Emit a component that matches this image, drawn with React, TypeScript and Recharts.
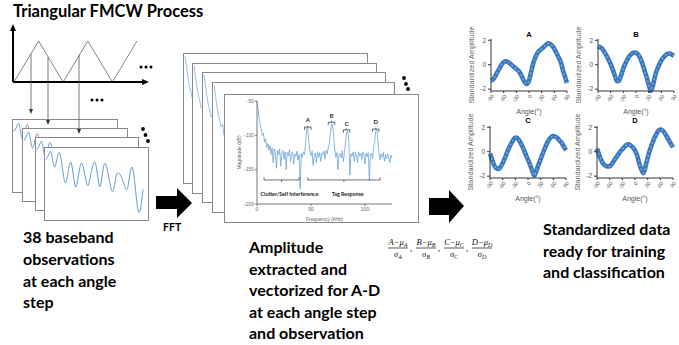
import React from 'react';
import { LineChart, Line, XAxis, YAxis, ReferenceLine, ReferenceDot, Label } from 'recharts';

// ---------- data ----------
const angleDeg = [-90,-85,-80,-75,-70,-65,-60,-55,-50,-45,-40,-35,-30,-25,-20,-15,-10,-5,0,5,10,15,20,25,30,35,40,45,50,55,60,65,70,75,80,85,90];
const ampA = [-1.3,-1.2,-0.95,-0.6,-0.3,0.0,0.2,0.28,0.22,0.1,-0.05,-0.2,-0.35,-0.5,-0.75,-1.1,-1.45,-1.58,-1.3,-0.6,0.1,0.6,0.95,1.15,1.3,1.45,1.62,1.75,1.7,1.55,1.3,0.95,0.6,0.25,-0.4,-0.95,-1.5];
const ampB = [1.5,1.42,1.3,1.05,0.75,0.4,0.05,-0.4,-0.9,-1.35,-1.3,-0.85,-0.3,0.1,0.45,0.72,0.9,1.0,0.98,0.82,0.55,0.1,-0.45,-1.0,-1.6,-2.15,-1.7,-0.95,-0.4,0.0,0.35,0.6,0.78,0.9,0.92,0.82,0.72];
const ampC = [-0.15,-0.65,-1.1,-1.35,-1.42,-1.25,-0.95,-0.55,-0.1,0.3,0.65,0.95,1.15,1.1,0.88,0.55,0.15,-0.25,-0.65,-1.1,-1.55,-1.95,-1.55,-1.05,-0.6,-0.15,0.3,0.68,1.0,1.2,1.27,1.22,1.1,0.9,0.7,0.4,0.12];
const ampD = [0.25,-0.25,-0.7,-1.0,-1.15,-1.2,-1.2,-1.0,-0.75,-0.5,-0.25,0.0,0.2,0.4,0.55,0.6,0.5,0.35,0.1,-0.3,-0.95,-1.45,-1.75,-1.2,-0.5,0.1,0.6,1.05,1.4,1.7,1.82,1.75,1.55,1.25,0.95,0.65,0.35];
const angleTicks = [-90,-60,-30,0,30,60,90];
const ampTicks = [-2,0,2];
const panelTitles = ['A','B','C','D'];

// FFT magnitude (dB) at 1 kHz steps, 0..125 kHz
const fftMag = [
-50,-62,-75,-85,-92,-100,-97,-110,-105,-118,
-112,-122,-115,-128,-118,-140,-120,-125,-148,-122,
-128,-120,-145,-126,-122,-135,-124,-150,-125,-130,
-121,-138,-126,-124,-142,-127,-131,-123,-136,-128,
-178,-126,-132,-124,-128,-112,-90,-89,-108,-125,
-130,-123,-144,-127,-126,-140,-124,-132,-125,-138,
-126,-128,-123,-135,-122,-127,-118,-112,-96,-83,
-85,-102,-120,-132,-125,-150,-128,-126,-133,-122,
-138,-125,-110,-95,-94,-106,-158,-127,-130,-124,
-138,-125,-129,-140,-124,-130,-126,-135,-124,-128,
-142,-126,-131,-125,-166,-128,-126,-134,-118,-108,
-93,-92,-110,-126,-136,-127,-132,-125,-138,-128,
-134,-127,-131,-140,-129,-133
];
const fftTicksX = [0,50,100];
const fftTicksY = [-200,-150,-100,-50];
const peakLabels = ['A','B','C','D'];
const peakFreq = [47,69,83,110];
const peakBracketDb = [-88,-81,-92,-91];
const peakLabelDb = [-77,-72,-83,-81];
const regionLabels = ['Clutter/Self Interference','Tag Response'];
const regionFrom = [6.5,47];
const regionTo = [39,114];
const regionLabelFreq = [30,84];

// baseband observation (relative amplitude)
const bbT = [0,3,5.5,9,14,19.5,25,30,35.5,41,45,50,54.5,59.5,66,70,73,78,82.5,87.5,93,98];
const bbV = [86,94,95,75,95,51,82,45,80,50,62,80,45,80,41,55,66,53,44,73,10,41];

// triangular chirp
const triT = [0,1,2,3,4,5];
const triV = [0,1,0,1,0,1];

const angleData = (vals: number[]) => angleDeg.map((a, i) => ({ a, v: vals[i] }));
const fftData = fftMag.map((m, i) => ({ f: i, m }));
const bbData = bbT.map((t, i) => ({ t, v: bbV[i] }));
const triData = triT.map((t, i) => ({ t, v: triV[i] }));

const SANS = 'Liberation Sans, Arial, sans-serif';
const BOLD = 'Lato, sans-serif';

// ---------- components ----------
function AnglePanel({ values, plotLeft, plotTop }: { values: number[]; plotLeft: number; plotTop: number }) {
  return (
    <div style={{ position: 'absolute', left: plotLeft - 40, top: plotTop - 14 }}>
      <LineChart width={121} height={92} data={angleData(values)} margin={{ top: 14, right: 5, bottom: 0, left: 0 }}>
        <XAxis type="number" dataKey="a" domain={[-90, 90]} ticks={angleTicks} interval={0} height={26}
          tick={{ fontSize: 5.5, fill: '#666', fontFamily: SANS }} angle={-55} textAnchor="end"
          tickSize={2} tickMargin={1} stroke="#333">
          <Label value="Angle(°)" position="insideBottom" offset={3} style={{ fontSize: 7, fill: '#555', fontFamily: SANS }} />
        </XAxis>
        <YAxis type="number" domain={[-2.15, 2.1]} ticks={ampTicks} width={40} interval={0}
          tick={{ fontSize: 6.5, fill: '#555', fontFamily: SANS }} tickSize={3} tickMargin={2} stroke="#333">
          <Label value="Standardized Amplitude" angle={-90} position="center" style={{ fontSize: 7.3, fill: '#666', fontFamily: SANS }} />
        </YAxis>
        <Line type="monotone" dataKey="v" stroke="#3a78bd" strokeWidth={4.6} dot={false} isAnimationActive={false} />
        <Line type="monotone" dataKey="v" stroke="#80acdc" strokeWidth={1.4} strokeDasharray="2 2.5" dot={false} isAnimationActive={false} />
      </LineChart>
    </div>
  );
}

function Frame({ x, y, w, h, children }: { x: number; y: number; w: number; h: number; children?: React.ReactNode }) {
  return (
    <div style={{ position: 'absolute', left: x, top: y, width: w, height: h, boxSizing: 'border-box', border: '1px solid #888', background: '#fff', overflow: 'hidden' }}>
      <div style={{ position: 'absolute', left: -1, top: -1 }}>{children}</div>
    </div>
  );
}

function BasebandChart({ w, h }: { w: number; h: number }) {
  return (
    <LineChart width={w} height={h} data={bbData} margin={{ top: 3, right: 4, bottom: 4, left: 2 }}>
      <XAxis hide type="number" dataKey="t" domain={[0, 100]} />
      <YAxis hide type="number" domain={[0, 100]} />
      <Line type="natural" dataKey="v" stroke="#4f8fd0" strokeWidth={0.9} dot={false} isAnimationActive={false} />
    </LineChart>
  );
}

function FftBackChart({ w, h }: { w: number; h: number }) {
  return (
    <LineChart width={w} height={h} data={fftData} margin={{ top: 3, right: 2, bottom: 2, left: 2 }}>
      <XAxis hide type="number" dataKey="f" domain={[0, 125]} />
      <YAxis hide type="number" domain={[-200, -50]} />
      <Line type="linear" dataKey="m" stroke="#7fb0de" strokeWidth={0.8} dot={false} isAnimationActive={false} />
    </LineChart>
  );
}

function FftFrontChart() {
  const txt = { fontSize: 5, fill: '#666', fontFamily: SANS };
  return (
    <LineChart width={195} height={129} data={fftData} margin={{ top: 7, right: 27, bottom: 0, left: 0 }}>
      <XAxis type="number" dataKey="f" domain={[0, 125]} ticks={fftTicksX} interval={0} height={19}
        tick={txt} tickSize={2} tickMargin={1} stroke="#777">
        <Label value="Frequency (kHz)" position="insideBottom" offset={2} style={txt} />
      </XAxis>
      <YAxis type="number" domain={[-200, -50]} ticks={fftTicksY} interval={0} width={33}
        tick={txt} tickSize={2} tickMargin={1} stroke="#777">
        <Label value="Magnitude (dB)" angle={-90} position="center" dx={-1} style={txt} />
      </YAxis>
      <Line type="linear" dataKey="m" stroke="#649fd6" strokeWidth={0.75} dot={false} isAnimationActive={false} />
      {peakLabels.map((L, i) => (
        <React.Fragment key={L}>
          <ReferenceLine segment={[{ x: peakFreq[i] - 3, y: peakBracketDb[i] }, { x: peakFreq[i] + 3, y: peakBracketDb[i] }]} stroke="#222" strokeWidth={0.7} />
          <ReferenceLine segment={[{ x: peakFreq[i] - 3, y: peakBracketDb[i] }, { x: peakFreq[i] - 3, y: peakBracketDb[i] - 4 }]} stroke="#222" strokeWidth={0.7} />
          <ReferenceLine segment={[{ x: peakFreq[i] + 3, y: peakBracketDb[i] }, { x: peakFreq[i] + 3, y: peakBracketDb[i] - 4 }]} stroke="#222" strokeWidth={0.7} />
          <ReferenceLine segment={[{ x: peakFreq[i], y: peakBracketDb[i] }, { x: peakFreq[i], y: peakBracketDb[i] + 2 }]} stroke="#222" strokeWidth={0.7} />
          <ReferenceDot x={peakFreq[i]} y={peakLabelDb[i]} r={0.01} fill="none" stroke="none"
            label={{ value: L, position: 'center', fontSize: 6, fontWeight: 700, fill: '#222', fontFamily: BOLD }} />
        </React.Fragment>
      ))}
      {regionLabels.map((L, i) => (
        <React.Fragment key={L}>
          <ReferenceLine segment={[{ x: regionFrom[i], y: -165 }, { x: regionTo[i], y: -165 }]} stroke="#333" strokeWidth={0.7} />
          <ReferenceLine segment={[{ x: regionFrom[i], y: -165 }, { x: regionFrom[i], y: -161 }]} stroke="#333" strokeWidth={0.7} />
          <ReferenceLine segment={[{ x: regionTo[i], y: -165 }, { x: regionTo[i], y: -161 }]} stroke="#333" strokeWidth={0.7} />
          <ReferenceLine segment={[{ x: (regionFrom[i] + regionTo[i]) / 2, y: -165 }, { x: (regionFrom[i] + regionTo[i]) / 2, y: -168 }]} stroke="#333" strokeWidth={0.7} />
          <ReferenceDot x={regionLabelFreq[i]} y={-185} r={0.01} fill="none" stroke="none"
            label={{ value: L, position: 'center', fontSize: 5.3, fontWeight: 700, fill: '#222', fontFamily: BOLD }} />
        </React.Fragment>
      ))}
    </LineChart>
  );
}

function Fraction({ x, letter }: { x: number; letter: string }) {
  const cx = x + 10;
  const f = 'Liberation Serif, DejaVu Serif, serif';
  return (
    <g fontFamily={f} fontStyle="italic" fill="#111">
      <text x={cx} y={245} fontSize={8.5} textAnchor="middle">
        {letter}−μ<tspan fontSize={6} dy={1.5}>{letter}</tspan>
      </text>
      <line x1={x} y1={248} x2={x + 20} y2={248} stroke="#111" strokeWidth={0.7} />
      <text x={cx} y={257} fontSize={8.5} textAnchor="middle">
        σ<tspan fontSize={6} dy={1.5}>{letter}</tspan>
      </text>
      {letter !== 'D' && <text x={x + 22} y={251} fontSize={9}>,</text>}
    </g>
  );
}

export default function App() {
  const fftFrames = [
    { x: 183, y: 53, w: 185, h: 131 },
    { x: 192, y: 63, w: 185, h: 131 },
    { x: 202, y: 72, w: 184, h: 131 },
    { x: 212, y: 82, w: 183, h: 131 },
  ];
  const bbFrames = [
    { x: 12, y: 119, w: 106, h: 74 },
    { x: 22, y: 128, w: 106, h: 74 },
    { x: 35, y: 137, w: 104, h: 74 },
  ];
  const bold = { fontFamily: BOLD, fontWeight: 700, fill: '#000' } as const;
  return (
    <div style={{ position: 'fixed', left: 0, top: 0, width: 679, height: 345, background: '#fff', overflow: 'hidden' }}>
      {/* triangular waveform */}
      <div style={{ position: 'absolute', left: 12, top: 39 }}>
        <LineChart width={127} height={45} data={triData} margin={{ top: 2, right: 2, bottom: 2, left: 2 }}>
          <XAxis hide type="number" dataKey="t" domain={[0, 5]} />
          <YAxis hide type="number" domain={[0, 1]} />
          <Line type="linear" dataKey="v" stroke="#777" strokeWidth={0.9} dot={false} isAnimationActive={false} />
        </LineChart>
      </div>

      {/* baseband frames */}
      {bbFrames.map((f, i) => (
        <Frame key={'bb' + i} {...f}><BasebandChart w={f.w} h={f.h} /></Frame>
      ))}
      <Frame x={44} y={147} w={105} h={74}><BasebandChart w={105} h={74} /></Frame>

      {/* FFT frames */}
      {fftFrames.map((f, i) => (
        <Frame key={'ff' + i} {...f}><FftBackChart w={f.w} h={f.h} /></Frame>
      ))}
      <Frame x={224} y={94} w={195} h={129}><FftFrontChart /></Frame>

      {/* standardized panels */}
      <AnglePanel values={ampA} plotLeft={491} plotTop={39} />
      <AnglePanel values={ampB} plotLeft={598} plotTop={39} />
      <AnglePanel values={ampC} plotLeft={490} plotTop={126} />
      <AnglePanel values={ampD} plotLeft={597} plotTop={126} />

      {/* overlay: arrows, dots, text */}
      <svg width={679} height={345} style={{ position: 'absolute', left: 0, top: 0, pointerEvents: 'none' }}>
        <text x={13} y={17} fontSize={16.5} {...bold}>Triangular FMCW Process</text>
        {/* axes */}
        <line x1={13} y1={82} x2={13} y2={30} stroke="#000" strokeWidth={2} />
        <polygon points="13,24 10,31 16,31" fill="#000" />
        <line x1={13} y1={82} x2={143} y2={82} stroke="#000" strokeWidth={2} />
        <polygon points="149,82 142,79 142,85" fill="#000" />
        {/* sampling arrows */}
        <line x1={31} y1={54} x2={31} y2={110} stroke="#555" strokeWidth={0.8} />
        <polygon points="31,114 29,109 33,109" fill="#333" />
        <line x1={48} y1={57} x2={48} y2={121} stroke="#555" strokeWidth={0.8} />
        <polygon points="48,125 46,120 50,120" fill="#333" />
        <line x1={79} y1={55} x2={79} y2={130} stroke="#555" strokeWidth={0.8} />
        <polygon points="79,134 77,129 81,129" fill="#333" />
        {/* dots */}
        {[141, 146, 151].map((x) => <circle key={'d1' + x} cx={x} cy={67} r={1.5} fill="#000" />)}
        {[92, 97, 102].map((x) => <circle key={'d2' + x} cx={x} cy={100} r={1.5} fill="#000" />)}
        <circle cx={143} cy={129} r={1.9} fill="#000" />
        <circle cx={145.5} cy={135} r={1.9} fill="#000" />
        <circle cx={148} cy={141} r={1.9} fill="#000" />
        <circle cx={404} cy={78} r={1.9} fill="#000" />
        <circle cx={406} cy={84} r={1.9} fill="#000" />
        <circle cx={408} cy={89} r={1.9} fill="#000" />
        {/* block arrows */}
        <polygon points="156,196 177,196 177,188 192,203 177,218 177,209 156,209" fill="#000" />
        <polygon points="429,198 449,198 449,190 464,206 449,223 449,215 429,215" fill="#000" />
        <text x={163} y={231} fontSize={10.5} {...bold}>FFT</text>
        {/* captions */}
        <text fontSize={16} {...bold}>
          <tspan x={23} y={243}>38 baseband</tspan>
          <tspan x={23} y={265}>observations</tspan>
          <tspan x={23} y={287}>at each angle</tspan>
          <tspan x={23} y={308}>step</tspan>
        </text>
        <text fontSize={16} {...bold}>
          <tspan x={249} y={253}>Amplitude</tspan>
          <tspan x={249} y={274.5}>extracted and</tspan>
          <tspan x={249} y={296}>vectorized for A-D</tspan>
          <tspan x={249} y={317.5}>at each angle step</tspan>
          <tspan x={249} y={339}>and observation</tspan>
        </text>
        <text fontSize={16} {...bold}>
          <tspan x={543} y={235}>Standardized data</tspan>
          <tspan x={543} y={256.5}>ready for training</tspan>
          <tspan x={543} y={278}>and classification</tspan>
        </text>
        {['A', 'B', 'C', 'D'].map((L, i) => <Fraction key={L} x={388 + i * 28} letter={L} />)}
        {/* panel titles */}
        <text x={529} y={37} fontSize={7.5} fontWeight={700} fontFamily={SANS} textAnchor="middle">{panelTitles[0]}</text>
        <text x={636} y={37} fontSize={7.5} fontWeight={700} fontFamily={SANS} textAnchor="middle">{panelTitles[1]}</text>
        <text x={528} y={123} fontSize={7.5} fontWeight={700} fontFamily={SANS} textAnchor="middle">{panelTitles[2]}</text>
        <text x={635} y={123} fontSize={7.5} fontWeight={700} fontFamily={SANS} textAnchor="middle">{panelTitles[3]}</text>
      </svg>
    </div>
  );
}
